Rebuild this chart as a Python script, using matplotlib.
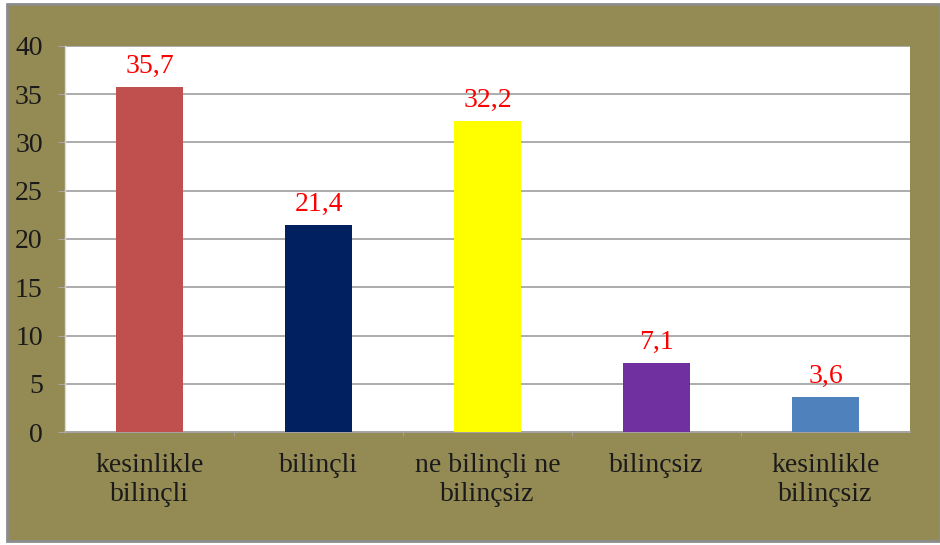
import matplotlib.pyplot as plt
from matplotlib.patches import Rectangle

categories = ['kesinlikle\nbilinçli', 'bilinçli', 'ne bilinçli ne\nbilinçsiz', 'bilinçsiz', 'kesinlikle\nbilinçsiz']
values = [35.7, 21.4, 32.2, 7.1, 3.6]
value_labels = ['35,7', '21,4', '32,2', '7,1', '3,6']
bar_colors = ['#C0504D', '#002060', '#FFFF00', '#7030A0', '#4F81BD']
yticks = [0, 5, 10, 15, 20, 25, 30, 35, 40]

plt.rcParams['font.family'] = ['Liberation Serif', 'DejaVu Serif']

fig = plt.figure(figsize=(9.4, 5.45), dpi=100, facecolor='white')
# olive frame behind the chart
fig.patches.append(Rectangle((7 / 940, 4 / 545), 933 / 940, 537 / 545, transform=fig.transFigure,
                             facecolor='#948A54', edgecolor='#8C8C8C', linewidth=2, zorder=-10))

ax = fig.add_axes([65 / 940, 113 / 545, 845 / 940, 386 / 545])
ax.set_zorder(5)
ax.set_facecolor('white')
x = list(range(len(categories)))
bars = ax.bar(x, values, width=0.4, color=bar_colors, zorder=3)
for b, lab in zip(bars, value_labels):
    ax.annotate(lab, (b.get_x() + b.get_width() / 2, b.get_height()), xytext=(0, 6),
                textcoords='offset points', ha='center', va='bottom', color='#FF0000', fontsize=20)

ax.set_xlim(-0.5, len(categories) - 0.5)
ax.set_ylim(0, 40)
ax.set_yticks(yticks)
ax.set_yticklabels([str(t) for t in yticks], fontsize=20, color='#1A1A1A')
ax.set_xticks(x)
ax.set_xticklabels(categories, fontsize=20, linespacing=1.2, color='#1A1A1A')
ax.set_xticks([i + 0.5 for i in x[:-1]], minor=True)
ax.grid(axis='y', color='#A6A6A6', linewidth=1.3, zorder=1)
ax.tick_params(axis='y', length=5, color='#A6A6A6', pad=11)
ax.tick_params(axis='x', which='major', length=0, pad=15)
ax.tick_params(axis='x', which='minor', length=3, color='#A6A6A6')
for s in ['top', 'right']:
    ax.spines[s].set_visible(False)
ax.spines['left'].set_color('#D9D9D9')
ax.spines['left'].set_linewidth(1)
ax.spines['bottom'].set_color('#A6A6A6')
ax.spines['bottom'].set_linewidth(1.3)

fig.savefig('out.png', dpi=100, facecolor=fig.get_facecolor())
